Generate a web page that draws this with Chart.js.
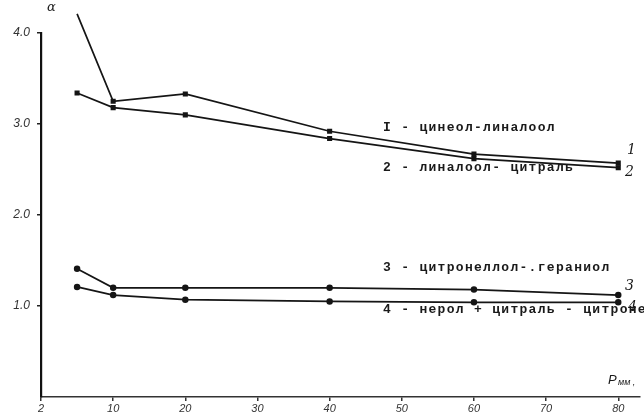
<!DOCTYPE html>
<html><head><meta charset="utf-8">
<script src="https://cdn.jsdelivr.net/npm/chart.js@4/dist/chart.umd.min.js"></script>
<style>html,body{margin:0;padding:0;background:#fff}canvas{display:block}</style>
</head><body>
<canvas id="c" width="644" height="416"></canvas>
<script>
const pressure = [5, 10, 20, 40, 60, 80];
const series1 = [4.21, 3.25, 3.33, 2.92, 2.67, 2.57];
const series2 = [3.34, 3.18, 3.10, 2.84, 2.62, 2.52];
const series3 = [1.41, 1.20, 1.20, 1.20, 1.18, 1.12];
const series4 = [1.21, 1.12, 1.07, 1.05, 1.04, 1.04];
const xTickValues = [0, 10, 20, 30, 40, 50, 60, 70, 80];
const xTickLabels = ['2', '10', '20', '30', '40', '50', '60', '70', '80'];
const yTickValues = [1, 2, 3, 4];
const yTickLabels = ['1.0', '2.0', '3.0', '4.0'];
const seriesNames = ['I - цинеол-линалоол', '2 - линалоол- цитраль', '3 - цитронеллол-.гераниол', '4 - нерол + цитраль - цитронеллол'];
const endNames = ['1', '2', '3', '4'];

function pts(ys){ return pressure.map((x,i)=>({x:x,y:ys[i]})); }
const ink = '#151515';
function ds(ys, style){
  return {data: pts(ys), borderColor: ink, backgroundColor: ink, borderWidth: 1.7,
    pointStyle: style, pointRadius: 2.4, pointHoverRadius: 2.4, tension: 0, clip: false};
}

const textPlugin = {
  id: 'texts',
  afterDraw(chart){
    const ctx = chart.ctx;
    ctx.save();
    ctx.fillStyle = '#1a1a1a';
    ctx.textBaseline = 'middle';
    ctx.font = 'bold 13px "Liberation Mono", monospace';
    ctx.letterSpacing = '1.3px';
    const lab = [[383,128],[383,168],[383,268],[383,310]];
    seriesNames.forEach((t,i)=>ctx.fillText(t, lab[i][0], lab[i][1]));
    ctx.letterSpacing = '0px';
    ctx.font = 'italic 14px "DejaVu Serif", serif';
    const end = [[627,150],[625,172],[625,286],[628,307]];
    endNames.forEach((t,i)=>ctx.fillText(t, end[i][0], end[i][1]));
    ctx.font = 'italic 13px "DejaVu Serif", serif';
    ctx.fillText('α', 47, 8);
    ctx.font = 'italic 13px "Liberation Sans", sans-serif';
    ctx.fillText('P', 608, 380);
    ctx.font = 'italic 9px "Liberation Sans", sans-serif';
    ctx.fillText('мм ,', 618, 382);
    ctx.restore();
  }
};

new Chart(document.getElementById('c'), {
  type: 'line',
  data: { datasets: [ds(series1,'rect'), ds(series2,'rect'), ds(series3,'circle'), ds(series4,'circle')] },
  options: {
    responsive: false, animation: false,
    layout: { padding: { top: 33, right: 0, left: 0, bottom: 0 } },
    plugins: { legend: {display:false}, tooltip: {enabled:false} },
    scales: {
      x: { type: 'linear', min: 0, max: 83,
        afterFit(s){ s.height = 19; },
        afterBuildTicks(s){ s.ticks = xTickValues.map(v=>({value:v})); },
        border: { display: true, color: '#333', width: 1.5 },
        grid: { display: true, drawOnChartArea: false, drawTicks: true, tickLength: 4, color: '#333', lineWidth: 1.5 },
        ticks: { autoSkip: false, maxRotation: 0, padding: 1, color: '#333',
          font: { family: 'Liberation Sans', size: 11, style: 'italic' },
          callback(v){ const i = xTickValues.indexOf(v); return i>=0 ? xTickLabels[i] : ''; } }
      },
      y: { type: 'linear', min: 0, max: 4,
        afterFit(s){ s.width = 41; },
        afterBuildTicks(s){ s.ticks = yTickValues.map(v=>({value:v})); },
        border: { display: true, color: '#111', width: 2.2 },
        grid: { display: true, drawOnChartArea: false, drawTicks: true, tickLength: 4, color: '#222', lineWidth: 1.5 },
        ticks: { autoSkip: false, padding: 7, color: '#333',
          font: { family: 'Liberation Sans', size: 12, style: 'italic' },
          callback(v){ const i = yTickValues.indexOf(v); return i>=0 ? yTickLabels[i] : ''; } }
      }
    }
  },
  plugins: [textPlugin]
});
</script>
</body></html>
